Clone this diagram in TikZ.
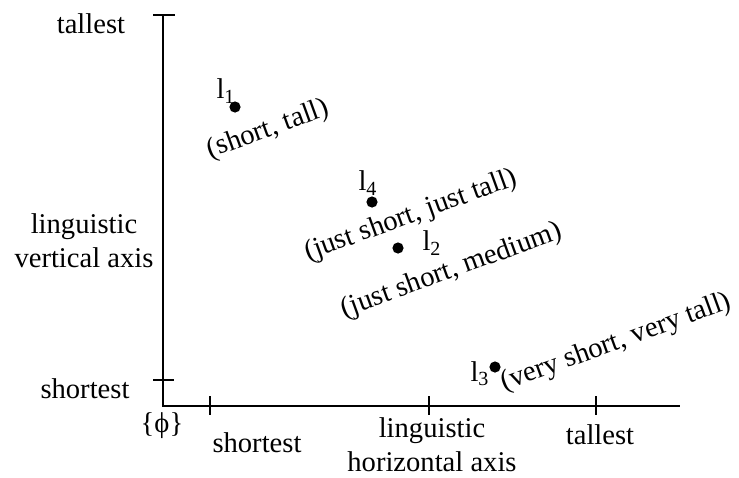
\documentclass[tikz,border=0pt]{standalone}
\usepackage{fontspec}
\setmainfont{Liberation Serif}
\usetikzlibrary{positioning}

\begin{document}
\begin{tikzpicture}[
    x=0.5pt, y=-0.5pt,
    every node/.style={font=\fontsize{14.3}{17}\selectfont},
    axis/.style={line width=1pt},
    tick/.style={line width=0.9pt},
    dot/.style={circle, fill=black, inner sep=0pt, minimum size=5.6pt},
    lbl/.style={align=center, inner sep=1pt},
    pair/.style={inner sep=0pt, rotate=20}
]
\useasboundingbox (0,0) rectangle (739,477);

% axes
\coordinate (origin) at (163,406);
\coordinate (ytop) at (163,15);
\coordinate (xend) at (680,406);
\draw[axis] (ytop) -- (origin) -- (xend);

% ticks
\draw[tick] (153,15) -- (175,15);
\draw[tick] (153,380) -- (174,380);
\foreach \tx in {210,429,596}
    \draw[tick] (\tx,396) -- (\tx,415);

% axis labels
\node[lbl] (vtall) at (91,24) {tallest};
\node[lbl] (vaxis) at (84,241) {linguistic\\vertical axis};
\node[lbl] (vshort) at (85,389) {shortest};
\node[lbl] (empty) at (162,426) {\{ϕ\}};
\node[lbl] (hshort) at (257,443) {shortest};
\node[lbl] (haxis) at (432,445) {linguistic\\horizontal axis};
\node[lbl] (htall) at (600,435) {tallest};

% points
\node[dot] (l1) at (235,107) {};
\node[dot] (l4) at (372,202) {};
\node[dot] (l2) at (398,248) {};
\node[dot] (l3) at (495,367) {};

\node[lbl] (l1name) at (226,91) {l\textsubscript{1}};
\node[lbl] (l4name) at (368,183) {l\textsubscript{4}};
\node[lbl] (l2name) at (432,243) {l\textsubscript{2}};
\node[lbl] (l3name) at (480,374) {l\textsubscript{3}};

\node[pair] (l1pair) at (268,130) {(short, tall)};
\node[pair] (l4pair) at (411,216) {(just short, just tall)};
\node[pair] (l2pair) at (452,271) {(just short, medium)};
\node[pair] (l3pair) at (616,343) {(very short, very tall)};
\end{tikzpicture}
\end{document}
